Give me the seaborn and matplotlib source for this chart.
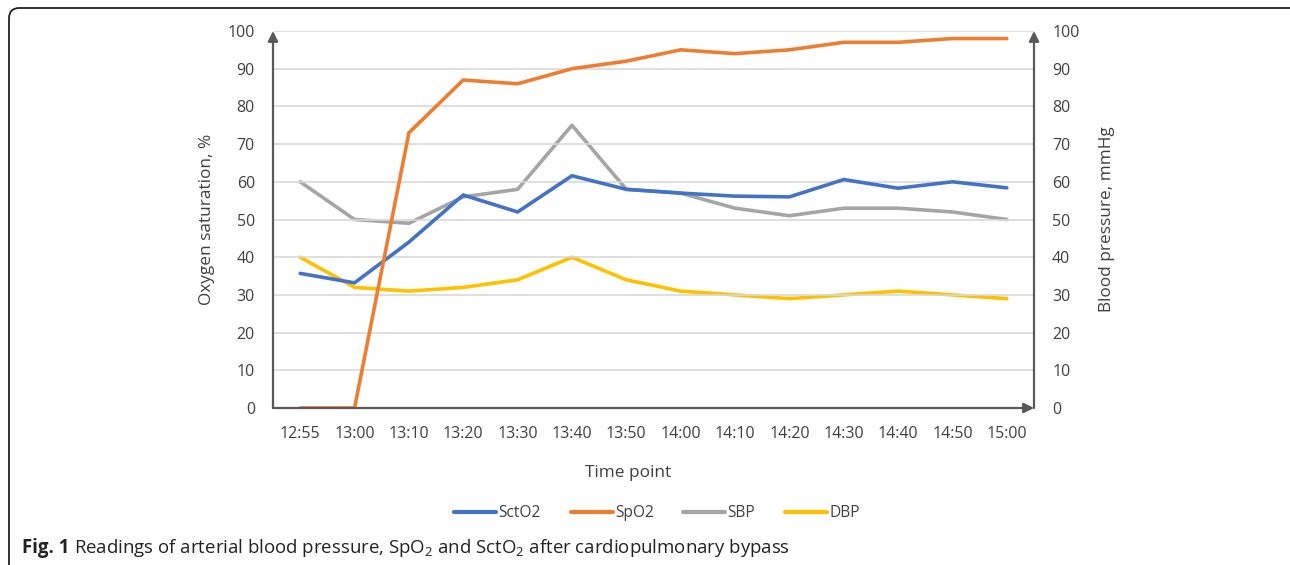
import numpy as np
import pandas as pd
import seaborn as sns
import matplotlib.pyplot as plt
from matplotlib.patches import FancyBboxPatch
from matplotlib.lines import Line2D

# Readings after cardiopulmonary bypass
time_points = ['12:55', '13:00', '13:10', '13:20', '13:30', '13:40', '13:50',
               '14:00', '14:10', '14:20', '14:30', '14:40', '14:50', '15:00']
scto2 = [35.7, 33.2, 44, 56.5, 52, 61.6, 58, 57, 56.2, 56, 60.6, 58.3, 60, 58.4]
spo2 = [0, 0, 73, 87, 86, 90, 92, 95, 94, 95, 97, 97, 98, 98]
sbp = [60, 50, 49, 56, 58, 75, 58, 57, 53, 51, 53, 53, 52, 50]
dbp = [40, 32, 31, 32, 34, 40, 34, 31, 30, 29, 30, 31, 30, 29]

colors = {'SctO2': '#4472C4', 'SpO2': '#ED7D31', 'SBP': '#A5A5A5', 'DBP': '#FFC000'}
axis_col = '#595959'
text_col = '#404040'

sns.set_style('white')
plt.rcParams['font.family'] = ['Open Sans', 'DejaVu Sans']
plt.rcParams['mathtext.fontset'] = 'custom'
plt.rcParams['mathtext.rm'] = 'Open Sans'

df = pd.DataFrame({'pos': np.arange(len(time_points)), 'time': time_points,
                   'SctO2': scto2, 'SpO2': spo2, 'SBP': sbp, 'DBP': dbp})

fig = plt.figure(figsize=(12.9, 5.65), dpi=100)
ax = fig.add_axes([273 / 1290, 1 - 408 / 565, (1034 - 273) / 1290, (408 - 31) / 565])
ax2 = ax.twinx()

# grid lines
for v in range(10, 101, 10):
    ax.axhline(v, color='#D9D9D9', lw=1.2, zorder=0)

lw = 2.6
sns.lineplot(data=df, x='pos', y='SctO2', ax=ax, color=colors['SctO2'], lw=lw, sort=False, zorder=3)
sns.lineplot(data=df, x='pos', y='SpO2', ax=ax, color=colors['SpO2'], lw=lw, sort=False, zorder=3)
sns.lineplot(data=df, x='pos', y='SBP', ax=ax2, color=colors['SBP'], lw=lw, sort=False, zorder=2)
sns.lineplot(data=df, x='pos', y='DBP', ax=ax2, color=colors['DBP'], lw=lw, sort=False, zorder=2)
for line in ax.lines + ax2.lines:
    line.set_solid_capstyle('round')

for a in (ax, ax2):
    a.set_xlim(-0.5, len(time_points) - 0.5)
    a.set_ylim(0, 100)
    a.set_yticks(range(0, 101, 10))
    for s in a.spines.values():
        s.set_visible(False)
    a.tick_params(length=0, labelsize=11.5, colors=text_col)
    a.set_xlabel('')
ax.set_xticks(df['pos'])
ax.set_xticklabels(time_points)
ax.tick_params(axis='y', pad=13)
ax.tick_params(axis='x', pad=13)
ax2.tick_params(axis='y', pad=13)

ax.set_ylabel('Oxygen saturation, %', fontsize=12.4, color=text_col, labelpad=9)
ax2.set_ylabel('Blood pressure, mmHg', fontsize=12.4, color=text_col, labelpad=14)
ax.patch.set_visible(False)
ax2.set_zorder(ax.get_zorder() - 1)
ax2.patch.set_visible(False)

# axes with arrow heads
arrow = dict(arrowstyle='-|>,head_length=0.6,head_width=0.3', color=axis_col, lw=1.6,
             shrinkA=0, shrinkB=0)
ax.annotate('', xy=(0, 1.0), xytext=(0, 0), xycoords='axes fraction', arrowprops=arrow)
ax.annotate('', xy=(1, 1.0), xytext=(1, 0), xycoords='axes fraction', arrowprops=arrow)
ax.annotate('', xy=(1, 0), xytext=(0, 0), xycoords='axes fraction', arrowprops=arrow)

fig.text(628 / 1290, 1 - 473 / 565, 'Time point', ha='center', va='center',
         fontsize=12.4, color=text_col)

handles = [Line2D([], [], color=colors[k], lw=3, solid_capstyle='round') for k in colors]
fig.legend(handles, list(colors), loc='center', bbox_to_anchor=(657 / 1290, 1 - 513 / 565),
           ncol=4, frameon=False, fontsize=11.2, handlelength=2.7, handletextpad=0.15,
           columnspacing=1.9, labelcolor=text_col)

# caption
t1 = fig.text(22 / 1290, 1 - 548 / 565, 'Fig. 1', fontsize=13.4, fontweight='bold',
              color='#222222', va='center', ha='left')
fig.canvas.draw()
bb = t1.get_window_extent()
fig.text((bb.x1 + 5) / 1290, 1 - 548 / 565,
         r'Readings of arterial blood pressure, SpO$_\mathregular{2}$ and '
         r'SctO$_\mathregular{2}$ after cardiopulmonary bypass',
         fontsize=13.4, color='#222222', va='center', ha='left')

# rounded frame
frame = FancyBboxPatch((9 / 1290, -0.1), 1.1, 1.1 - 8 / 565,
                       boxstyle='round,pad=0,rounding_size=0.008',
                       transform=fig.transFigure, fill=False, ec='#222222', lw=1.3,
                       mutation_aspect=1290 / 565)
fig.patches.append(frame)

fig.savefig('out.png', dpi=100)
